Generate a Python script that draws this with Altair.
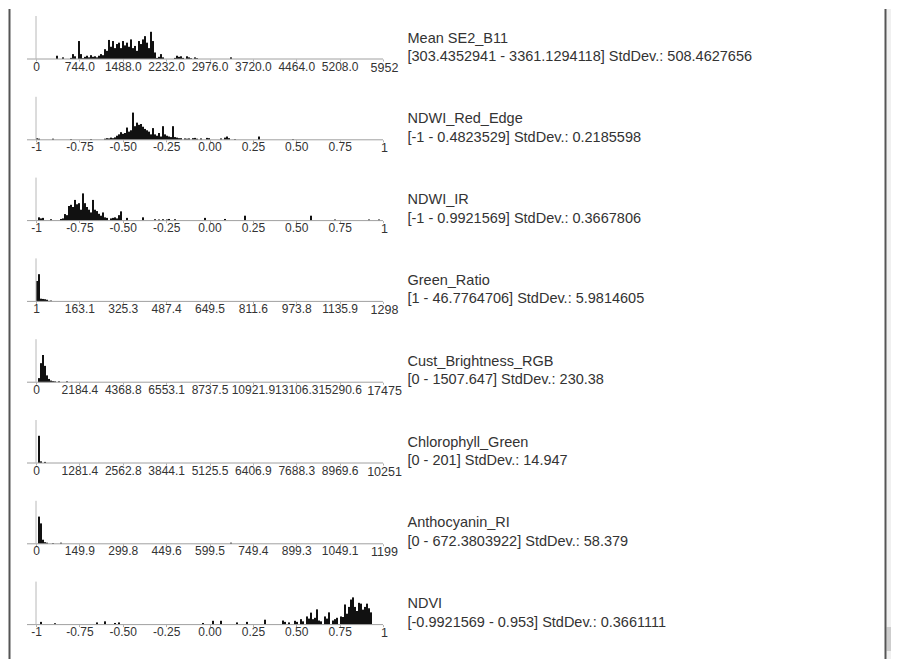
import json
import altair as alt
import pandas as pd

names = ["Mean SE2_B11", "NDWI_Red_Edge", "NDWI_IR", "Green_Ratio",
         "Cust_Brightness_RGB", "Chlorophyll_Green", "Anthocyanin_RI", "NDVI"]
ranges = ["[303.4352941 - 3361.1294118] StdDev.: 508.4627656",
          "[-1 - 0.4823529] StdDev.: 0.2185598",
          "[-1 - 0.9921569] StdDev.: 0.3667806",
          "[1 - 46.7764706] StdDev.: 5.9814605",
          "[0 - 1507.647] StdDev.: 230.38",
          "[0 - 201] StdDev.: 14.947",
          "[0 - 672.3803922] StdDev.: 58.379",
          "[-0.9921569 - 0.953] StdDev.: 0.3661111"]
axis_min = [0, -1, -1, 1, 0, 0, 0, -1]
axis_max = [5952, 1, 1, 1298, 17475, 10251, 1199, 1]
bin_step = [34.30, 0.011527, 0.011527, 7.476, 100.72, 59.08, 6.911, 0.011527]
tick_labels = [
    ["0", "744.0", "1488.0", "2232.0", "2976.0", "3720.0", "4464.0", "5208.0", "5952"],
    ["-1", "-0.75", "-0.50", "-0.25", "0.00", "0.25", "0.50", "0.75", "1"],
    ["-1", "-0.75", "-0.50", "-0.25", "0.00", "0.25", "0.50", "0.75", "1"],
    ["1", "163.1", "325.3", "487.4", "649.5", "811.6", "973.8", "1135.9", "1298"],
    ["0", "2184.4", "4368.8", "6553.1", "8737.5", "10921.9", "13106.3", "15290.6", "17475"],
    ["0", "1281.4", "2562.8", "3844.1", "5125.5", "6406.9", "7688.3", "8969.6", "10251"],
    ["0", "149.9", "299.8", "449.6", "599.5", "749.4", "899.3", "1049.1", "1199"],
    ["-1", "-0.75", "-0.50", "-0.25", "0.00", "0.25", "0.50", "0.75", "1"],
]

# histogram bins (bin index from axis minimum) and relative heights
p1_bin = [10, 13, 17, 18, 19, 21, 22, 23, 24, 25, 26, 27, 28, 29, 30, 31, 32, 33, 34, 35, 36, 37, 38,
          39, 40, 41, 42, 43, 44, 45, 46, 47, 48, 49, 50, 51, 52, 53, 54, 55, 56, 57, 58, 59, 60, 61,
          62, 63, 69, 70, 71, 72, 73, 75, 76, 77, 79, 80, 97]
p1_cnt = [12, 6, 4, 18, 10, 66, 18, 3, 8, 12, 6, 14, 8, 10, 6, 12, 18, 14, 36, 30, 70, 45, 66,
          40, 55, 60, 40, 66, 50, 60, 45, 72, 40, 48, 30, 66, 55, 72, 84, 60, 40, 100, 66, 24, 4, 8,
          18, 6, 4, 12, 8, 10, 4, 10, 6, 3, 6, 3, 6]
p2_bin = [0, 1, 8, 17, 27, 34, 35, 36, 37, 38, 39, 40, 41, 42, 43, 44, 45, 46, 47, 48, 49, 50, 51,
          52, 53, 54, 55, 56, 57, 58, 59, 60, 61, 62, 63, 64, 65, 66, 67, 68, 69, 70, 71, 72, 74, 75,
          76, 78, 79, 80, 82, 85, 86, 92, 94, 95, 96, 99, 111, 128]
p2_cnt = [6, 4, 4, 3, 3, 4, 6, 5, 8, 6, 9, 15, 20, 28, 22, 25, 45, 30, 35, 100, 50, 63, 55,
          58, 48, 40, 35, 30, 20, 43, 20, 15, 25, 12, 50, 20, 15, 12, 10, 50, 10, 8, 6, 6, 5, 4,
          5, 6, 7, 4, 5, 7, 6, 5, 8, 12, 6, 3, 12, 3]
p3_bin = [1, 2, 3, 7, 12, 13, 14, 15, 16, 17, 18, 19, 20, 21, 22, 23, 24, 25, 26, 27, 28, 29, 30,
          31, 32, 33, 34, 35, 37, 38, 39, 40, 41, 42, 45, 53, 59, 61, 63, 65, 66, 69, 84, 94, 104,
          137, 149, 166, 171]
p3_cnt = [12, 8, 10, 5, 6, 8, 24, 20, 54, 58, 50, 76, 60, 64, 40, 100, 64, 50, 40, 30, 76, 40, 35,
          25, 18, 30, 12, 10, 8, 10, 12, 8, 20, 34, 10, 12, 5, 4, 5, 4, 6, 5, 10, 6, 18,
          18, 4, 4, 4]
p4_bin = [0, 1, 2, 3, 4, 5, 6, 7]
p4_cnt = [75, 100, 10, 9, 8, 6, 2, 3]
p5_bin = [1, 2, 3, 4, 5, 6, 7, 8, 9, 11, 15]
p5_cnt = [15, 70, 100, 60, 25, 12, 6, 4, 3, 3, 3]
p6_bin = [1, 2, 4]
p6_cnt = [100, 6, 4]
p7_bin = [1, 2, 3, 4, 5, 8, 12, 97]
p7_cnt = [100, 75, 15, 6, 4, 3, 4, 4]
p8_bin = [2, 9, 30, 34, 39, 41, 83, 88, 92, 100, 105, 114, 123, 124, 126, 129, 130, 132, 133,
          135, 136, 137, 138, 139, 140, 141, 142, 144, 145, 146, 148, 149, 150, 152, 153, 154,
          155, 156, 157, 158, 159, 160, 161, 162, 163, 164, 165, 166, 167]
p8_cnt = [10, 5, 8, 12, 6, 8, 6, 14, 14, 8, 10, 18, 15, 10, 8, 14, 10, 20, 12,
          30, 22, 44, 20, 25, 56, 15, 12, 30, 22, 45, 15, 20, 25, 30, 28, 74,
          40, 65, 92, 100, 65, 50, 80, 77, 55, 65, 77, 60, 45]

bins = [p1_bin, p2_bin, p3_bin, p4_bin, p5_bin, p6_bin, p7_bin, p8_bin]
cnts = [p1_cnt, p2_cnt, p3_cnt, p4_cnt, p5_cnt, p6_cnt, p7_cnt, p8_cnt]

W, H = 347, 43
FONT = "Liberation Sans"


def panel(i):
    lo, hi, step = axis_min[i], axis_max[i], bin_step[i]
    pairs = list(zip(bins[i], cnts[i]))
    df = pd.DataFrame({"k": [p[0] for p in pairs], "c": [p[1] for p in pairs]})
    df["x0"] = lo + df["k"] * step
    df["x1"] = df["x0"] + step
    ticks = [lo + (hi - lo) * j / 8 for j in range(9)]
    expr = json.dumps(tick_labels[i]) + "[round(datum.index * 8)]"
    xaxis = alt.Axis(
        values=ticks, labelExpr=expr, title=None, domain=False, grid=False,
        ticks=True, tickSize=2, tickColor="#b0b0b0", labelPadding=0,
        labelFont=FONT, labelColor="#333333",
        labelFontSize={"condition": {"test": "datum.index == 1", "value": 12.5}, "value": 12},
        labelOffset={"condition": {"test": "datum.index == 1", "value": 1}, "value": 0},
        labelOverlap=False, labelFlush=False, labelBound=False,
    )
    bars = alt.Chart(df).mark_rect(color="#111111").encode(
        x=alt.X("x0:Q", scale=alt.Scale(domain=[lo, hi], nice=False, zero=False), axis=xaxis),
        x2="x1:Q",
        y=alt.Y("c:Q", scale=alt.Scale(domain=[0, 158]), axis=None),
        y2=alt.datum(0),
    )
    one = alt.Chart(pd.DataFrame({"name": [names[i]], "rng": [ranges[i]]}))
    hline = one.mark_rule(color="#a0a0a0", strokeWidth=1).encode(
        x=alt.value(-9), x2=alt.value(W), y=alt.value(H))
    vline = one.mark_rule(color="#b8b8b8", strokeWidth=1).encode(
        x=alt.value(0), y=alt.value(0), y2=alt.value(H))
    t1 = one.mark_text(align="left", baseline="middle", font=FONT, fontSize=14.5,
                       color="#333333").encode(x=alt.value(371.5), y=alt.value(22.5), text="name:N")
    t2 = one.mark_text(align="left", baseline="middle", font=FONT, fontSize=14.5,
                       color="#333333").encode(x=alt.value(371.5), y=alt.value(41), text="rng:N")
    layers = [bars, hline, vline, t1, t2]
    if i == 0:
        track = one.mark_rect(color="#f0f0f0").encode(
            x=alt.value(850.5), x2=alt.value(855), y=alt.value(-7), y2=alt.value(643))
        thumb = one.mark_rect(color="#cdcdcd").encode(
            x=alt.value(850.5), x2=alt.value(855), y=alt.value(611), y2=alt.value(635))
        lborder = one.mark_rule(color="#555555", strokeWidth=2).encode(
            x=alt.value(-26.5), y=alt.value(-7), y2=alt.value(643))
        rborder = one.mark_rule(color="#555555", strokeWidth=2).encode(
            x=alt.value(849.5), y=alt.value(-7), y2=alt.value(643))
        layers = [track, thumb, lborder, rborder] + layers
    return alt.layer(*layers).properties(width=W, height=H)


chart = alt.vconcat(*[panel(i) for i in range(8)], spacing=37.8, bounds="flush").properties(
    padding=0, background="white"
).configure_view(stroke=None)

chart.save("out.html", embed_options={"renderer": "svg", "actions": False})
